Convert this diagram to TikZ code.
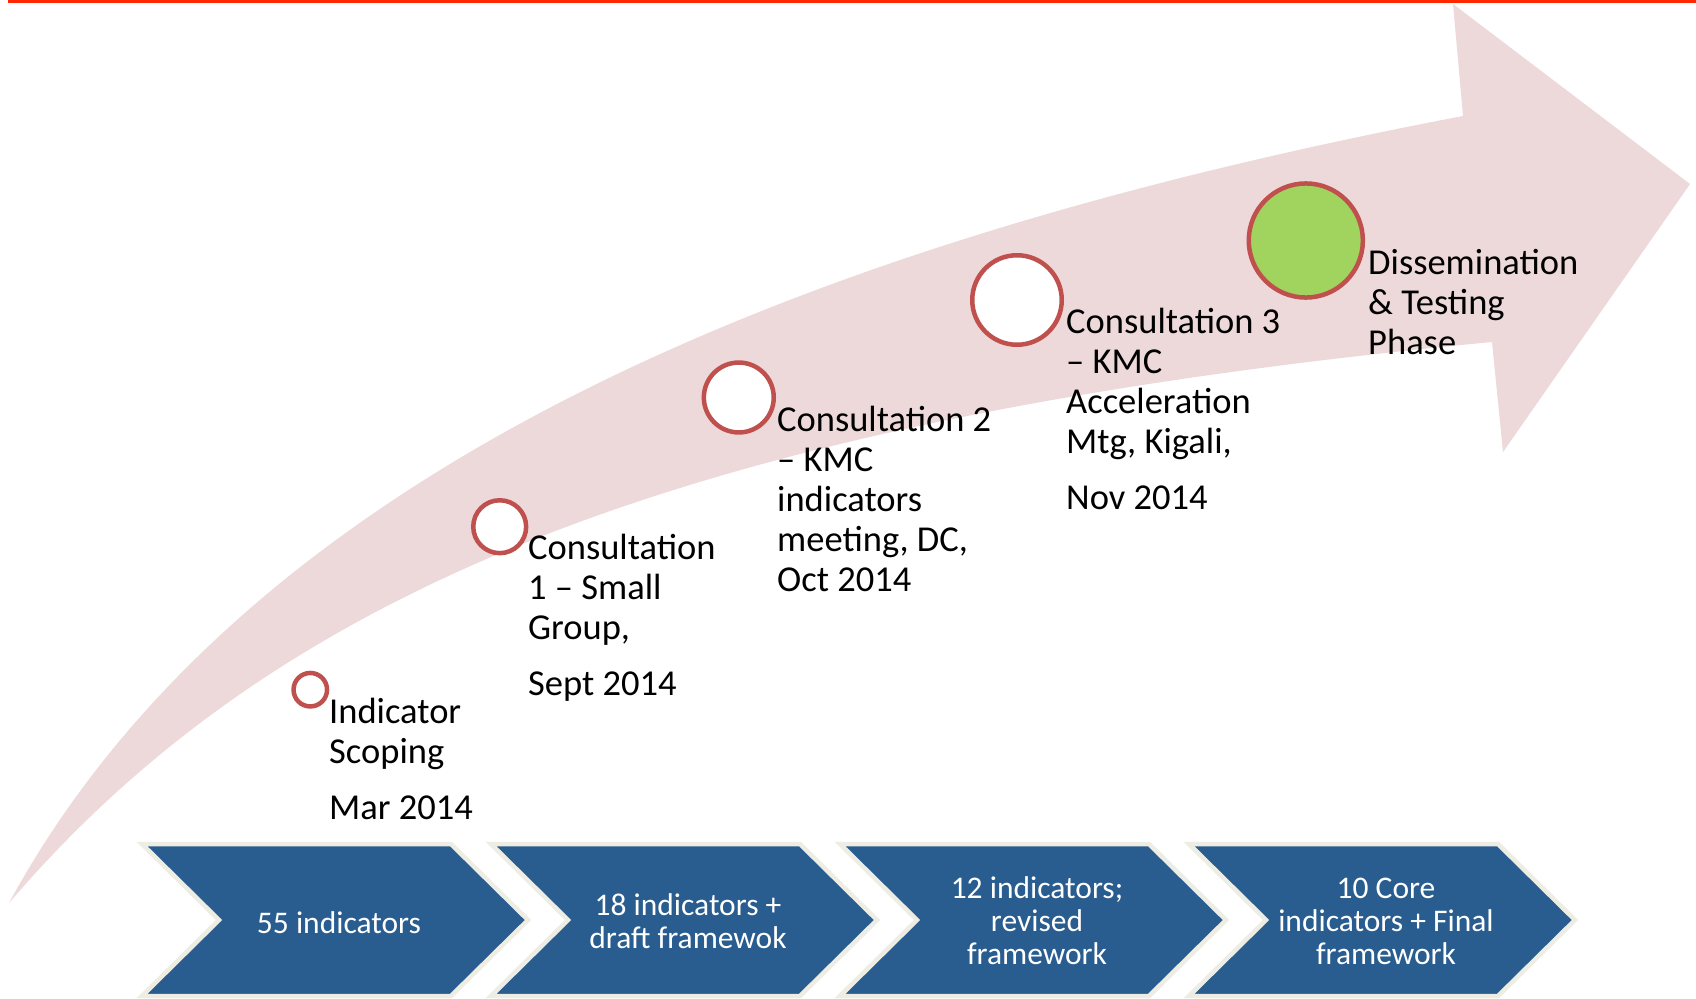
\documentclass[tikz,border=0pt]{standalone}
\usepackage{fontspec}
\setmainfont{Carlito}
\definecolor{topred}{HTML}{FF2800}
\definecolor{bandpink}{HTML}{EDD9DA}
\definecolor{ringred}{HTML}{C0504D}
\definecolor{donegreen}{HTML}{A0D45F}
\definecolor{chevblue}{HTML}{295D8F}
\definecolor{chevedge}{HTML}{EDEDE3}
\tikzset{
  milestone/.style={circle, draw=ringred, line width=4.5pt, fill=white, inner sep=0pt},
  % base anchor of a multi-line node sits on its last line
  steplabel/.style={anchor=base west, align=left, inner sep=0pt, text=black,
    font=\fontsize{36.5}{40}\selectfont},
  chevbox/.style={fill=chevblue, draw=chevedge, line width=4.5pt},
  chevtext/.style={anchor=base, align=center, inner sep=0pt, text=white,
    font=\fontsize{31.5}{33}\selectfont}
}
\begin{document}
\begin{tikzpicture}[x=1pt, y=-1pt]
\useasboundingbox (0,0) rectangle (1696,998);
\fill[white] (0,0) rectangle (1696,998);

% rule along the top edge
\fill[topred] (8,0) rectangle (1696,3.5);

% curved progress arrow
\fill[bandpink] (9,903) .. controls (262,438) and (876,228) .. (1463,116)
  -- (1453,4) -- (1690,184) -- (1503,452) -- (1492,342)
  .. controls (696,418) and (282,584) .. (9,903) -- cycle;

% milestones
\node[milestone, minimum size=33.5pt] (c1) at (310.3,689.7) {};
\node[milestone, minimum size=52.9pt] (c2) at (499.7,526.7) {};
\node[milestone, minimum size=69.9pt] (c3) at (738.8,397.5) {};
\node[milestone, minimum size=89.5pt] (c4) at (1017,300) {};
\node[milestone, minimum size=114.1pt, fill=donegreen] (c5) at (1305.8,240.5) {};

% milestone labels (positioned by the baseline of their last line)
\node[steplabel] (l1) at (329,819) {Indicator\\Scoping\\[16pt]Mar 2014};
\node[steplabel] (l2) at (528,695) {Consultation\\1 – Small\\Group,\\[16pt]Sept 2014};
\node[steplabel] (l3) at (777,591) {Consultation 2\\– KMC\\indicators\\meeting, DC,\\Oct 2014};
\node[steplabel] (l4) at (1066,509) {Consultation 3\\– KMC\\Acceleration\\Mtg, Kigali,\\[16pt]Nov 2014};
\node[steplabel] (l5) at (1368,354) {Dissemination\\\& Testing\\Phase};

% chevron process bar
\foreach \k in {0,1,2,3}{
  \pgfmathsetmacro{\dx}{349*\k}
  \filldraw[chevbox] (142+\dx,844) -- (451+\dx,844) -- (528+\dx,920)
    -- (451+\dx,996) -- (142+\dx,996) -- (219+\dx,920) -- cycle;
}
\node[chevtext] (t1) at (339,933) {55 indicators};
\node[chevtext] (t2) at (688,948) {18 indicators +\\draft framewok};
\node[chevtext] (t3) at (1037,964) {12 indicators;\\revised\\framework};
\node[chevtext] (t4) at (1386,964) {10 Core\\indicators + Final\\framework};
\end{tikzpicture}
\end{document}
